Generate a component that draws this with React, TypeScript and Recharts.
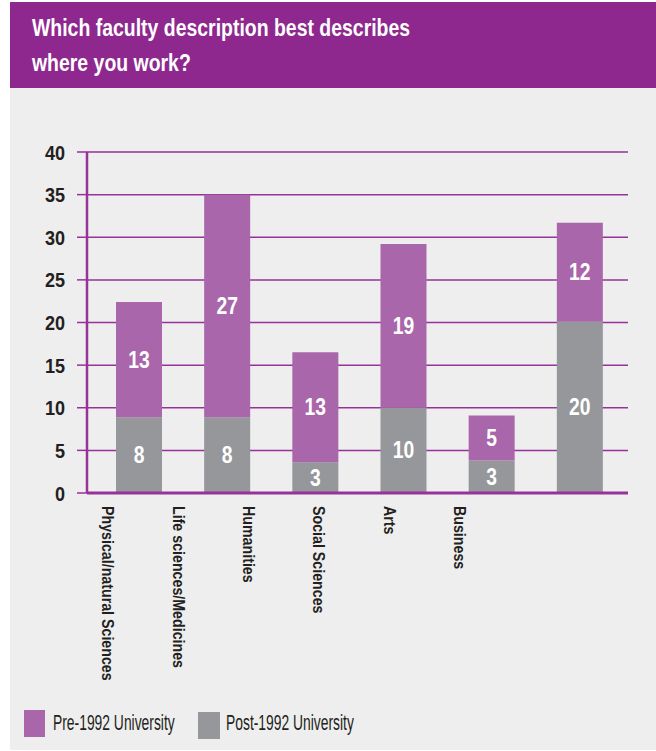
import React from "react";
import { BarChart, Bar, XAxis, YAxis, CartesianGrid, LabelList } from "recharts";

const categories = [
  "Physical/natural Sciences",
  "Life sciences/Medicines",
  "Humanities",
  "Social Sciences",
  "Arts",
  "Business",
];
const post1992 = [8.9, 8.9, 3.6, 10.0, 3.8, 20.1];
const pre1992 = [13.5, 26.1, 12.9, 19.2, 5.3, 11.6];
const postLabels = [8, 8, 3, 10, 3, 20];
const preLabels = [13, 27, 13, 19, 5, 12];
const yTicks = [0, 5, 10, 15, 20, 25, 30, 35, 40];

const data = categories.map((name, i) => ({
  name,
  post: post1992[i],
  pre: pre1992[i],
  postLabel: postLabels[i],
  preLabel: preLabels[i],
}));

const PURPLE_HEADER = "#8e288e";
const PURPLE_BAR = "#a966aa";
const GRAY_BAR = "#96979b";
const GRID = "#96329a";
const BG = "#eeeeee";
const TEXT = "#231f20";
const FONT = "'Liberation Sans', Arial, sans-serif";

// category labels are laid out tighter than the bars in the original print
const LABEL_SCALE = 0.798;
const LABEL_SHIFT = -2.9;

const XTick = (props: any) => {
  const { x, y, payload } = props;
  const lx = x * LABEL_SCALE + LABEL_SHIFT;
  return (
    <text
      transform={`translate(${lx}, ${y + 5}) rotate(90) scale(0.89, 1)`}
      x={0}
      y={0}
      textAnchor="start"
      dominantBaseline="central"
      fill={TEXT}
      fontFamily={FONT}
      fontWeight="bold"
      fontSize={16}
    >
      {payload.value}
    </text>
  );
};

const YTick = (props: any) => {
  const { x, y, payload } = props;
  return (
    <text
      transform={`translate(${x}, ${y}) scale(0.86, 1)`}
      x={0}
      y={0}
      textAnchor="end"
      dominantBaseline="central"
      fill={TEXT}
      fontFamily={FONT}
      fontWeight="bold"
      fontSize={21}
    >
      {payload.value}
    </text>
  );
};

const BarLabel = (props: any) => {
  const { x, y, width, height, value } = props;
  const cx = Number(x) + Number(width) / 2;
  const cy = Number(y) + Number(height) / 2;
  return (
    <text
      transform={`translate(${cx}, ${cy}) scale(0.84, 1)`}
      x={0}
      y={0}
      textAnchor="middle"
      dominantBaseline="central"
      fill="#fff"
      fontFamily={FONT}
      fontWeight="bold"
      fontSize={23}
    >
      {value}
    </text>
  );
};

export default function App() {
  return (
    <div style={{ position: "absolute", left: 0, top: 0, width: 656, height: 751, background: "#fff" }}>
      <div style={{ position: "absolute", left: 10, top: 88, width: 646, height: 662, background: BG }} />
      <div style={{ position: "absolute", left: 10, top: 2, width: 646, height: 86, background: PURPLE_HEADER }} />
      <div
        style={{
          position: "absolute",
          left: 32,
          top: 10,
          color: "#fff",
          fontFamily: FONT,
          fontWeight: "bold",
          fontSize: 24,
          lineHeight: "35px",
          whiteSpace: "nowrap",
          transform: "scaleX(0.81)",
          transformOrigin: "0 0",
        }}
      >
        <div>Which faculty description best describes</div>
        <div>where you work?</div>
      </div>
      <div style={{ position: "absolute", left: 0, top: 0 }}>
        <BarChart
          width={656}
          height={751}
          data={data}
          margin={{ top: 152, right: 28, bottom: 58, left: 27 }}
          barSize={46}
        >
          <CartesianGrid vertical={false} stroke={GRID} strokeWidth={1.5} />
          <XAxis
            dataKey="name"
            height={200}
            interval={0}
            padding={{ left: 8, right: 4 }}
            axisLine={{ stroke: GRID, strokeWidth: 3 }}
            tickLine={false}
            tick={<XTick />}
          />
          <YAxis
            width={60}
            domain={[0, 40]}
            ticks={yTicks}
            interval={0}
            axisLine={{ stroke: GRID, strokeWidth: 2.5 }}
            tickLine={{ stroke: GRID, strokeWidth: 1.5 }}
            tickSize={10}
            tickMargin={12}
            tick={<YTick />}
          />
          <Bar dataKey="post" stackId="a" fill={GRAY_BAR} isAnimationActive={false}>
            <LabelList dataKey="postLabel" content={<BarLabel />} />
          </Bar>
          <Bar dataKey="pre" stackId="a" fill={PURPLE_BAR} isAnimationActive={false}>
            <LabelList dataKey="preLabel" content={<BarLabel />} />
          </Bar>
        </BarChart>
      </div>
      <div style={{ position: "absolute", left: 24, top: 710, width: 21, height: 27, background: PURPLE_BAR }} />
      <div style={{ position: "absolute", left: 198, top: 712, width: 22, height: 27, background: GRAY_BAR }} />
      <div
        style={{
          position: "absolute",
          left: 53,
          top: 710,
          fontFamily: FONT,
          fontSize: 22,
          lineHeight: "26px",
          color: TEXT,
          whiteSpace: "nowrap",
          transform: "scaleX(0.63)",
          transformOrigin: "0 0",
        }}
      >
        Pre-1992 University
      </div>
      <div
        style={{
          position: "absolute",
          left: 226,
          top: 710,
          fontFamily: FONT,
          fontSize: 22,
          lineHeight: "26px",
          color: TEXT,
          whiteSpace: "nowrap",
          transform: "scaleX(0.63)",
          transformOrigin: "0 0",
        }}
      >
        Post-1992 University
      </div>
    </div>
  );
}
